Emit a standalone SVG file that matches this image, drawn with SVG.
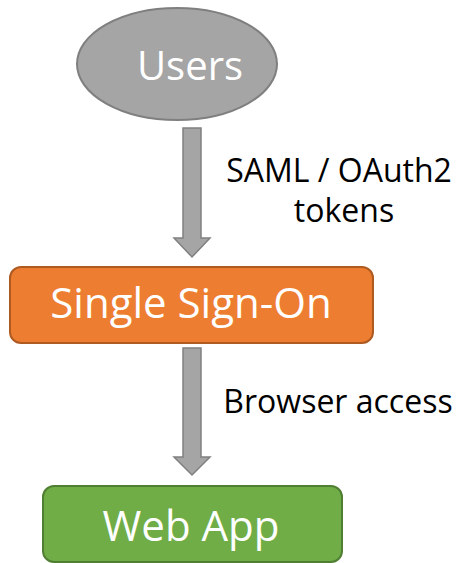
<svg xmlns="http://www.w3.org/2000/svg" width="457" height="563" viewBox="0 0 457 563">
  <style>
    .node-text { font-family: "Open Sans", "Liberation Sans", sans-serif; font-size: 42px; fill: #ffffff; text-anchor: middle; }
    .label { font-family: "Open Sans", "Liberation Sans", sans-serif; font-size: 32px; fill: #000000; text-anchor: middle; }
    .arrow { fill: #a5a5a5; stroke: #808080; stroke-width: 1.5; stroke-linejoin: miter; }
  </style>
  <rect width="457" height="563" fill="#ffffff"/>

  <g id="connectors">
    <polygon class="arrow" points="183,128 201,128 201,238 210,238 192,257 174,238 183,238"/>
    <polygon class="arrow" points="183,348 201,348 201,457 210,457 192,475 174,457 183,457"/>
    <text class="label" x="339" y="182">SAML / OAuth2</text>
    <text class="label" x="344" y="222">tokens</text>
    <text class="label" x="338" y="413">Browser access</text>
  </g>

  <g id="users">
    <ellipse cx="177" cy="64" rx="100" ry="56" fill="#a5a5a5" stroke="#7f7f7f" stroke-width="2"/>
    <text class="node-text" x="190" y="80" style="font-size:40px">Users</text>
  </g>

  <g id="sso">
    <rect x="10" y="267" width="363" height="76" rx="11" fill="#ed7d31" stroke="#ae5a21" stroke-width="2"/>
    <text class="node-text" x="191" y="318">Single Sign-On</text>
  </g>

  <g id="webapp">
    <rect x="43" y="486" width="299" height="76" rx="11" fill="#70ad47" stroke="#507e32" stroke-width="2"/>
    <text class="node-text" x="191" y="541">Web App</text>
  </g>
</svg>
